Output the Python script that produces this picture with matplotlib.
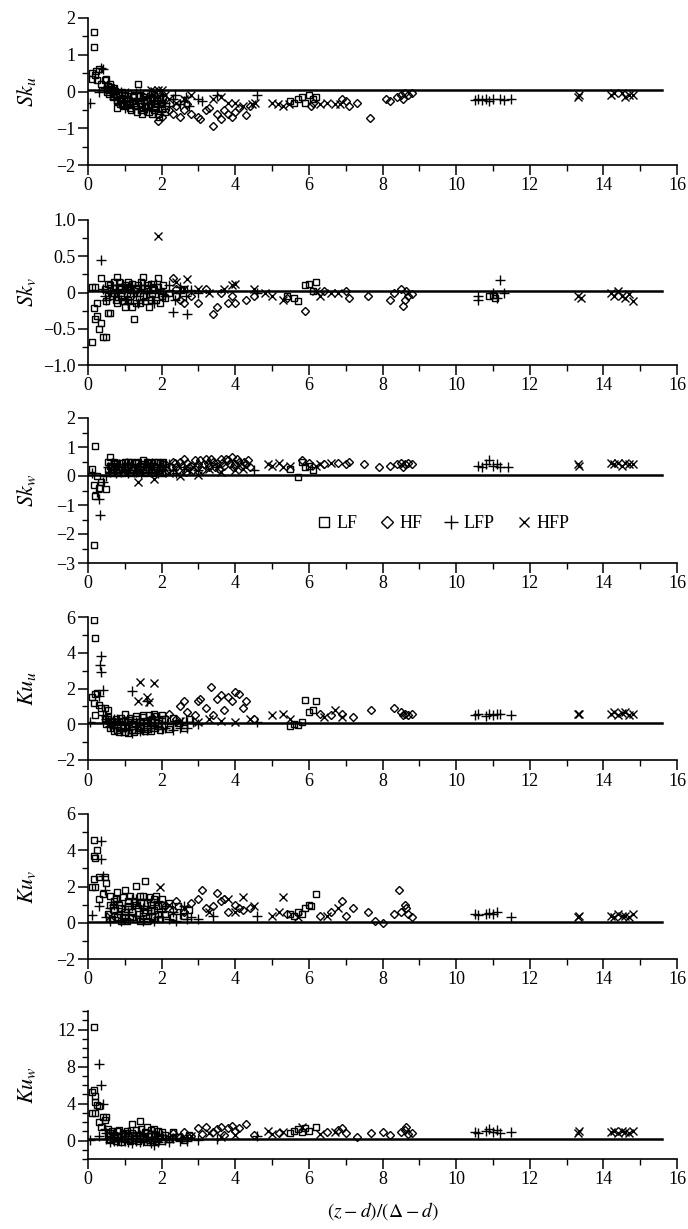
import numpy as np
import matplotlib
matplotlib.use("Agg")
import matplotlib.pyplot as plt
from matplotlib.ticker import MultipleLocator, FixedLocator

plt.rcParams['font.family'] = ['Liberation Serif', 'DejaVu Serif']
plt.rcParams['mathtext.fontset'] = 'stix'

# (x, y) pairs, one list per panel and series
# panel 1: Sk_u
sku_lf = [(0.1,0.35),(0.12,0.5),(0.15,1.62),(0.17,1.22),(0.2,0.45),(0.22,0.55),(0.25,0.3),(0.3,0.6),
          (0.35,0.2),(0.45,0.3),(0.5,0.35),(0.55,0.15),(0.6,0.2),(0.65,0.05),(0.7,0.1),(0.75,-0.1),
          (0.8,-0.45),(0.85,-0.05),(0.9,-0.2),(0.95,-0.3),(1.0,-0.1),(1.05,-0.35),(1.1,-0.2),(1.15,-0.45),
          (1.2,-0.25),(1.25,-0.1),(1.3,-0.4),(1.35,0.2),(1.4,-0.3),(1.45,-0.5),(1.5,-0.15),(1.55,-0.4),
          (1.6,-0.25),(1.65,-0.55),(1.7,-0.35),(1.75,-0.15),(1.8,-0.5),(1.85,-0.3),(1.9,-0.6),(1.95,-0.2),
          (2.0,-0.45),(5.5,-0.25),(5.6,-0.3),(5.7,-0.2),(5.8,-0.15),(5.9,-0.3),(6.0,-0.1),(6.1,-0.2),(6.2,-0.15)]
sku_lf_core = [(0.52,0.0),(0.58,-0.08),(0.63,0.12),(0.68,-0.15),(0.73,0.02),(0.78,-0.25),(0.83,-0.1),
               (0.88,-0.35),(0.93,0.0),(0.98,-0.4),(1.03,-0.2),(1.08,-0.05),(1.13,-0.3),(1.18,-0.5),
               (1.23,-0.15),(1.28,-0.3),(1.33,-0.55),(1.38,-0.1),(1.43,-0.35),(1.48,-0.6),(1.53,-0.25),
               (1.58,-0.05),(1.63,-0.4),(1.68,-0.2),(1.73,-0.6),(1.78,-0.05),(1.83,-0.4),(1.88,-0.25),
               (1.93,-0.7),(1.98,-0.35),(2.03,-0.15),(2.08,-0.55)]
sku_hf = [(1.9,-0.8),(2.0,-0.7),(2.2,-0.5),(2.3,-0.6),(2.4,-0.4),(2.5,-0.7),(2.6,-0.5),(2.7,-0.35),
          (2.8,-0.6),(3.0,-0.7),(3.05,-0.75),(3.2,-0.5),(3.3,-0.45),(3.4,-0.95),(3.5,-0.6),(3.6,-0.75),
          (3.7,-0.5),(3.8,-0.6),(3.9,-0.7),(4.0,-0.55),(4.1,-0.45),(4.3,-0.65),(4.4,-0.4),(6.05,-0.4),
          (6.1,-0.3),(6.9,-0.2),(7.0,-0.25),(7.3,-0.3),(7.1,-0.4),(7.65,-0.72),(8.1,-0.2),(8.2,-0.25),
          (8.4,-0.15),(8.5,-0.1),(8.55,-0.2),(8.6,-0.05),(8.7,-0.1),(8.8,-0.05)]
sku_lfp = [(0.05,-0.3),(0.3,0.0),(0.35,0.65),(0.4,0.6),(0.45,0.1),(0.5,0.05),(0.6,0.0),(0.7,-0.05),
           (0.8,-0.15),(0.9,0.0),(1.0,-0.25),(1.1,-0.05),(1.2,-0.35),(1.3,-0.2),(1.4,-0.05),(1.5,-0.3),
           (1.6,-0.45),(1.7,-0.1),(1.8,-0.25),(1.9,-0.4),(2.0,-0.1),(2.1,-0.3),(2.3,-0.2),(2.6,-0.25),
           (3.0,-0.2),(3.1,-0.25),(3.5,-0.1),(4.6,-0.1),(10.5,-0.22),(10.6,-0.2),(10.7,-0.22),(10.8,-0.2),
           (10.9,-0.25),(11.0,-0.2),(11.2,-0.2),(11.3,-0.22),(11.5,-0.2)]
sku_lfp_core = [(0.55,0.15),(0.62,-0.05),(0.7,-0.2),(0.77,0.05),(0.85,-0.3),(0.92,-0.15),(1.0,-0.45),
                (1.07,-0.15),(1.15,-0.25),(1.22,-0.45),(1.3,-0.05),(1.37,-0.45),(1.45,-0.2),(1.52,-0.5),
                (1.6,-0.15),(1.67,-0.35),(1.75,-0.5),(1.82,-0.15),(1.9,-0.3),(1.97,-0.55),(2.05,-0.3),
                (2.2,-0.4),(2.35,-0.1),(2.5,-0.35),(2.65,-0.15),(2.75,-0.4)]
sku_hfp = [(1.7,0.05),(1.8,0.02),(1.9,0.05),(2.0,0.03),(2.1,-0.1),(2.2,-0.2),(2.4,-0.3),(2.6,-0.2),
           (2.8,-0.1),(3.4,-0.2),(3.6,-0.15),(3.8,-0.3),(4.0,-0.3),(4.2,-0.4),(4.45,-0.35),(4.55,-0.3),
           (5.0,-0.3),(5.15,-0.35),(5.3,-0.4),(5.45,-0.35),(6.3,-0.35),(6.5,-0.3),(6.7,-0.35),(6.85,-0.35),
           (13.3,-0.15),(13.35,-0.1),(14.2,-0.1),(14.3,-0.05),(14.5,-0.05),(14.6,-0.15),(14.7,-0.1),(14.8,-0.1)]

# panel 2: Sk_v
skv_lf = [(0.1,-0.68),(0.12,0.07),(0.15,-0.22),(0.2,0.08),(0.2,-0.37),(0.25,-0.33),(0.25,-0.15),(0.3,-0.5),
          (0.35,-0.42),(0.35,0.2),(0.4,-0.62),(0.5,-0.62),(0.55,-0.28),(0.6,-0.28),(0.6,0.1),(0.7,0.15),
          (0.75,-0.1),(0.8,0.22),(0.85,0.05),(0.9,-0.05),(1.0,-0.2),(1.0,0.1),(1.1,0.15),(1.1,-0.1),
          (1.2,-0.2),(1.25,-0.37),(1.3,0.05),(1.4,-0.15),(1.5,0.22),(1.5,-0.05),(1.6,0.1),(1.7,-0.1),
          (1.8,0.05),(1.9,0.2),(2.0,-0.05),(5.4,-0.05),(5.6,-0.08),(5.7,-0.12),(5.9,0.1),(6.0,0.12),
          (6.2,0.15),(6.1,0.02),(10.9,-0.05),(11.0,-0.03),(11.05,-0.08)]
skv_lf_core = [(0.45,0.05),(0.5,-0.12),(0.55,0.12),(0.65,-0.05),(0.7,0.0),(0.8,-0.15),(0.85,0.15),
               (0.9,0.08),(0.95,-0.12),(1.05,0.0),(1.1,0.05),(1.15,-0.05),(1.2,0.12),(1.3,-0.15),
               (1.35,0.1),(1.4,0.0),(1.45,0.15),(1.55,-0.12),(1.6,0.05),(1.65,-0.2),(1.7,0.12),
               (1.75,0.0),(1.85,-0.1),(1.9,0.08),(1.95,-0.15),(2.05,0.1),(2.1,-0.08),(2.2,0.0),
               (2.4,-0.05),(2.6,0.05)]
skv_hf = [(2.3,0.2),(2.4,0.05),(2.5,-0.1),(2.6,-0.15),(2.8,-0.05),(3.0,-0.15),(3.2,0.05),(3.4,-0.3),
          (3.5,-0.2),(3.6,0.0),(3.8,-0.15),(3.9,-0.05),(4.0,-0.15),(4.3,-0.1),(4.5,-0.05),(5.4,-0.08),
          (5.9,-0.25),(6.4,0.02),(7.0,0.02),(7.1,-0.08),(7.6,-0.05),(8.2,-0.1),(8.3,0.0),(8.5,0.05),
          (8.55,-0.18),(8.6,-0.1),(8.65,0.02),(8.7,-0.05),(8.8,-0.02)]
skv_lfp = [(0.35,0.45),(0.4,0.05),(0.5,-0.1),(0.6,0.0),(0.7,-0.05),(0.8,0.1),(0.9,-0.1),(1.0,0.05),
           (1.1,-0.15),(1.2,0.1),(1.3,-0.05),(1.4,0.1),(1.5,-0.1),(1.6,0.0),(1.7,0.1),(1.8,-0.15),
           (1.9,0.0),(2.1,-0.05),(2.3,-0.27),(2.5,0.0),(2.7,-0.3),(3.0,0.0),(4.6,0.0),(10.6,-0.05),
           (10.6,-0.1),(11.0,0.0),(11.2,0.17),(11.1,-0.08),(11.3,0.0)]
skv_lfp_core = [(0.45,-0.05),(0.55,0.02),(0.65,0.1),(0.75,0.05),(0.85,-0.05),(0.95,0.12),(1.05,-0.1),
                (1.15,0.08),(1.25,0.0),(1.35,-0.15),(1.45,0.05),(1.55,0.1),(1.65,0.0),(1.75,-0.1),
                (1.85,0.12),(1.95,0.05),(2.05,-0.02),(2.2,0.1),(2.35,-0.1),(2.5,0.08),(2.65,-0.05),(2.8,0.03)]
skv_hfp = [(1.9,0.78),(2.4,0.15),(2.7,0.18),(2.6,0.05),(3.0,0.05),(3.3,0.0),(3.7,0.05),(3.9,0.1),
           (4.0,0.12),(4.5,0.05),(4.8,0.0),(5.0,-0.05),(5.3,-0.1),(6.2,0.02),(6.3,-0.05),(6.6,0.0),
           (6.8,0.0),(13.3,-0.05),(13.4,-0.08),(14.2,0.0),(14.3,-0.05),(14.4,0.02),(14.5,-0.05),
           (14.6,-0.08),(14.7,-0.02),(14.8,-0.12)]

# panel 3: Sk_w
skw_lf = [(0.1,0.25),(0.15,-2.38),(0.15,-0.3),(0.2,1.05),(0.2,-0.7),(0.25,0.0),(0.3,-0.4),(0.35,-0.2),
          (0.5,-0.45),(0.55,0.5),(0.6,0.65),(0.65,0.3),(0.7,0.4),(0.8,0.1),(0.9,0.45),(1.0,0.3),
          (1.1,0.5),(1.2,0.2),(1.3,0.45),(1.4,0.35),(1.5,0.55),(1.6,0.3),(1.7,0.45),(1.8,0.2),
          (1.9,0.5),(2.0,0.4),(5.5,0.25),(5.7,-0.05),(5.8,0.5),(5.9,0.3),(6.0,0.35),(6.1,0.2)]
skw_lf_core = [(0.55,0.2),(0.6,0.35),(0.65,0.1),(0.7,0.5),(0.75,0.25),(0.8,0.45),(0.85,0.2),(0.9,0.3),
               (0.95,0.1),(1.0,0.5),(1.05,0.2),(1.1,0.35),(1.15,0.1),(1.2,0.5),(1.25,0.3),(1.3,0.1),
               (1.35,0.5),(1.4,0.15),(1.45,0.4),(1.5,0.25),(1.55,0.1),(1.6,0.5),(1.65,0.2),(1.7,0.35),
               (1.75,0.1),(1.8,0.5),(1.85,0.3),(1.9,0.15),(1.95,0.45),(2.0,0.1),(2.05,0.5)]
skw_hf = [(2.1,0.4),(2.3,0.5),(2.4,0.3),(2.6,0.6),(2.8,0.35),(2.9,0.55),(3.0,0.4),(3.2,0.6),
          (3.3,0.3),(3.4,0.5),(3.5,0.45),(3.6,0.6),(3.7,0.35),(3.8,0.55),(3.9,0.65),(4.0,0.4),
          (4.1,0.5),(4.3,0.4),(4.4,0.3),(5.8,0.55),(6.0,0.45),(6.4,0.4),(6.8,0.45),(7.0,0.4),
          (7.1,0.5),(7.5,0.4),(7.9,0.3),(8.2,0.35),(8.4,0.4),(8.5,0.45),(8.55,0.3),(8.6,0.4),
          (8.7,0.45),(8.8,0.4)]
skw_hf_core = [(2.15,0.2),(2.25,0.3),(2.35,0.45),(2.45,0.2),(2.5,0.5),(2.55,0.35),(2.65,0.15),
               (2.7,0.45),(2.75,0.3),(2.85,0.2),(2.95,0.3),(3.05,0.55),(3.1,0.2),(3.15,0.4),
               (3.25,0.45),(3.35,0.6),(3.45,0.3),(3.55,0.25),(3.65,0.45),(3.75,0.6),(3.85,0.4),
               (3.95,0.3),(4.05,0.6),(4.15,0.35),(4.25,0.5),(4.35,0.55)]
skw_lfp = [(0.1,0.1),(0.25,-0.55),(0.3,-0.8),(0.33,-1.35),(0.4,-0.2),(0.5,0.0),(0.6,0.15),(0.7,0.2),
           (0.8,0.35),(0.9,0.15),(1.0,0.25),(1.1,0.1),(1.2,0.4),(1.3,0.15),(1.4,0.3),(1.5,0.2),
           (1.6,0.45),(1.7,0.15),(1.8,0.3),(1.9,0.1),(2.0,0.25),(2.1,0.35),(2.3,0.2),(2.6,0.3),
           (3.0,0.2),(3.5,0.3),(4.5,0.2),(10.6,0.35),(10.7,0.3),(10.8,0.4),(10.9,0.55),(11.0,0.35),
           (11.1,0.4),(11.2,0.3),(11.4,0.3)]
skw_lfp_core = [(0.55,0.3),(0.65,0.45),(0.75,0.1),(0.85,0.4),(0.95,0.3),(1.05,0.45),(1.15,0.3),
                (1.25,0.15),(1.35,0.3),(1.45,0.1),(1.55,0.4),(1.65,0.3),(1.75,0.45),(1.85,0.1),
                (1.95,0.3),(2.05,0.2),(2.2,0.4),(2.4,0.1)]
skw_hfp = [(1.35,-0.2),(1.8,-0.1),(2.2,0.1),(2.5,0.0),(2.7,0.2),(3.0,0.05),(3.3,0.25),(3.6,0.15),
           (4.0,0.2),(4.2,0.25),(4.9,0.4),(5.0,0.35),(5.2,0.45),(5.3,0.3),(5.5,0.35),(6.2,0.35),
           (6.3,0.4),(6.6,0.45),(13.3,0.4),(13.35,0.35),(14.2,0.45),(14.3,0.4),(14.4,0.45),
           (14.5,0.35),(14.6,0.45),(14.7,0.4),(14.8,0.4)]

# panel 4: Ku_u
kuu_lf = [(0.1,1.5),(0.15,5.85),(0.15,1.2),(0.2,4.85),(0.2,1.7),(0.2,0.5),(0.25,1.75),(0.3,1.1),
          (0.35,0.9),(0.45,0.9),(0.55,0.8),(0.6,0.2),(0.7,0.0),(0.8,-0.3),(0.9,0.2),(1.0,0.6),
          (1.0,-0.45),(1.1,0.1),(1.2,-0.3),(1.3,0.3),(1.4,-0.2),(1.5,0.4),(1.6,-0.25),(1.7,0.1),
          (1.8,0.6),(1.9,-0.1),(2.0,0.3),(5.5,-0.1),(5.6,0.0),(5.7,-0.05),(5.8,0.1),(5.9,1.35),
          (6.0,0.7),(6.1,0.8),(6.2,1.3)]
kuu_lf_core = [(0.45,0.3),(0.5,0.0),(0.55,0.4),(0.6,-0.2),(0.65,0.2),(0.7,-0.35),(0.75,0.3),(0.8,0.1),
               (0.85,-0.45),(0.9,0.35),(0.95,-0.2),(1.0,0.2),(1.05,-0.1),(1.1,-0.5),(1.15,0.35),
               (1.2,0.0),(1.25,-0.45),(1.3,0.45),(1.35,-0.3),(1.4,0.15),(1.45,-0.1),(1.5,0.5),
               (1.55,-0.4),(1.6,0.2),(1.65,0.5),(1.7,-0.35),(1.75,0.3),(1.8,-0.2),(1.85,0.45),
               (1.9,0.05),(1.95,-0.3),(2.0,0.5),(2.1,0.3),(2.2,-0.25),(2.3,0.35),(2.45,0.05),
               (2.6,-0.2),(2.75,0.3)]
kuu_hf = [(2.2,0.6),(2.4,0.3),(2.5,1.0),(2.6,1.3),(2.7,0.7),(2.9,0.5),(3.0,1.3),(3.05,1.4),
          (3.2,0.9),(3.35,2.1),(3.4,0.5),(3.5,1.4),(3.6,1.65),(3.7,0.8),(3.8,1.5),(3.9,1.3),
          (4.0,1.8),(4.1,1.7),(4.2,0.9),(4.3,1.3),(4.5,0.3),(6.3,0.6),(6.6,0.5),(6.9,0.6),
          (7.2,0.4),(7.7,0.8),(8.3,0.9),(8.5,0.7),(8.55,0.5),(8.6,0.6),(8.7,0.5),(8.8,0.55)]
kuu_lfp = [(0.05,0.1),(0.3,1.6),(0.33,3.3),(0.35,3.8),(0.35,2.9),(0.4,1.9),(0.4,0.5),(0.5,0.3),
           (0.6,-0.1),(0.7,0.3),(0.8,0.0),(0.9,-0.4),(1.0,0.1),(1.1,-0.3),(1.2,1.85),(1.2,0.2),
           (1.3,-0.1),(1.4,0.3),(1.5,-0.3),(1.6,1.3),(1.6,0.1),(1.7,-0.2),(1.8,0.3),(1.9,-0.15),
           (2.0,0.1),(2.1,-0.2),(2.3,0.0),(2.5,-0.2),(2.7,0.1),(3.0,0.0),(4.6,0.1),(10.5,0.5),
           (10.6,0.55),(10.8,0.45),(10.9,0.6),(11.0,0.5),(11.1,0.6),(11.2,0.55),(11.5,0.5)]
kuu_lfp_core = [(0.5,0.45),(0.6,0.1),(0.7,-0.2),(0.8,0.3),(0.9,-0.3),(1.0,-0.2),(1.1,0.4),(1.2,-0.5),
                (1.3,0.15),(1.4,-0.4),(1.5,0.0),(1.6,-0.3),(1.7,0.4),(1.8,-0.1),(1.9,0.4),(2.0,-0.25),
                (2.15,0.05),(2.3,-0.3),(2.4,0.2),(2.55,0.1),(2.7,-0.2),(2.85,0.1)]
kuu_hfp = [(1.35,1.3),(1.4,2.35),(1.6,1.5),(1.65,1.25),(1.8,2.3),(2.5,0.2),(3.0,0.1),(3.3,0.3),
           (3.6,0.2),(4.0,0.1),(4.4,0.3),(5.0,0.5),(5.3,0.6),(5.5,0.3),(6.4,0.4),(6.7,0.8),
           (6.9,0.4),(13.3,0.55),(13.35,0.6),(14.2,0.6),(14.3,0.7),(14.4,0.5),(14.5,0.65),
           (14.6,0.7),(14.7,0.5),(14.8,0.6)]

# panel 5: Ku_v
kuv_lf = [(0.1,2.0),(0.15,4.55),(0.15,3.7),(0.15,2.4),(0.2,3.6),(0.2,2.0),(0.25,4.0),(0.3,2.5),
          (0.3,1.3),(0.4,1.6),(0.45,2.55),(0.5,2.2),(0.6,1.5),(0.7,1.2),(0.8,1.7),(0.9,0.8),
          (1.0,1.8),(1.0,0.3),(1.1,1.2),(1.2,0.6),(1.3,2.05),(1.3,1.0),(1.4,1.5),(1.5,0.4),
          (1.55,2.3),(1.6,1.1),(1.7,0.7),(1.8,1.3),(1.9,0.5),(2.0,1.0),(5.5,0.5),(5.6,0.4),
          (5.7,0.6),(5.8,0.5),(5.9,0.8),(6.0,1.0),(6.05,0.9),(6.2,1.6)]
kuv_lf_core = [(0.55,0.5),(0.6,1.0),(0.65,0.2),(0.7,0.7),(0.75,1.3),(0.8,0.3),(0.85,1.0),(0.9,0.1),
               (0.95,1.4),(1.0,0.6),(1.05,0.1),(1.1,0.9),(1.15,1.5),(1.2,0.3),(1.25,1.2),(1.3,0.2),
               (1.35,0.8),(1.4,0.1),(1.45,1.1),(1.5,1.5),(1.55,0.6),(1.6,0.1),(1.65,1.4),(1.7,1.0),
               (1.75,0.3),(1.8,0.7),(1.85,1.5),(1.9,0.9),(1.95,0.2),(2.0,1.3),(2.1,0.5),(2.2,1.1),
               (2.3,0.3),(2.45,0.9),(2.6,0.4),(2.75,0.7)]
kuv_hf = [(2.1,0.9),(2.3,0.7),(2.4,1.2),(2.6,0.6),(2.8,1.1),(3.0,1.3),(3.1,1.8),(3.2,0.8),
          (3.4,0.9),(3.5,1.65),(3.6,1.2),(3.7,1.3),(3.8,0.6),(4.0,1.0),(4.1,0.8),(4.2,0.7),
          (4.4,0.8),(5.4,0.5),(6.3,0.4),(6.6,0.6),(6.9,1.2),(7.0,0.4),(7.2,0.8),(7.6,0.6),
          (7.8,0.1),(8.0,0.0),(8.3,0.5),(8.45,1.8),(8.5,0.6),(8.6,1.0),(8.65,0.8),(8.7,0.5),(8.8,0.3)]
kuv_lfp = [(0.1,0.45),(0.3,0.9),(0.35,4.5),(0.35,3.5),(0.4,2.6),(0.45,1.8),(0.5,0.3),(0.6,0.8),
           (0.7,0.3),(0.8,0.6),(0.9,0.1),(1.0,0.9),(1.1,0.2),(1.2,1.3),(1.3,0.4),(1.4,0.9),
           (1.5,0.1),(1.6,0.7),(1.7,0.2),(1.8,1.0),(1.9,0.3),(2.0,0.6),(2.2,0.2),(2.5,0.5),
           (2.8,0.3),(3.0,0.2),(3.4,0.4),(4.6,0.4),(10.5,0.5),(10.6,0.45),(10.8,0.5),(10.9,0.55),
           (11.0,0.5),(11.1,0.6),(11.5,0.3)]
kuv_lfp_core = [(0.6,0.1),(0.7,1.0),(0.8,1.2),(0.9,0.5),(1.0,0.2),(1.1,0.6),(1.2,0.9),(1.3,1.3),
                (1.4,0.4),(1.5,0.8),(1.6,1.3),(1.7,0.5),(1.8,0.1),(1.9,1.2),(2.0,0.3),(2.1,0.9),
                (2.3,0.6),(2.4,0.1),(2.6,0.9),(2.7,0.2)]
kuv_hfp = [(0.6,0.4),(1.95,1.95),(2.2,1.0),(2.6,0.8),(3.3,0.6),(3.8,1.3),(4.0,0.6),(4.2,1.4),
           (4.5,0.9),(5.0,0.4),(5.2,0.6),(5.3,1.4),(5.7,0.3),(6.5,0.4),(6.8,0.8),(13.3,0.3),
           (13.35,0.35),(14.2,0.4),(14.3,0.3),(14.4,0.5),(14.5,0.35),(14.6,0.4),(14.7,0.3),(14.8,0.5)]

# panel 6: Ku_w
kuw_lf = [(0.1,5.2),(0.1,3.0),(0.15,12.3),(0.15,5.5),(0.2,4.8),(0.2,4.2),(0.2,3.0),(0.25,3.8),
          (0.3,3.7),(0.3,2.0),(0.35,1.5),(0.4,2.5),(0.45,2.2),(0.5,2.5),(0.55,1.2),(0.6,0.8),
          (0.7,0.3),(0.8,1.0),(0.9,0.5),(1.0,0.8),(1.1,0.2),(1.2,1.8),(1.3,0.6),(1.4,2.1),
          (1.5,0.4),(1.6,1.5),(1.7,0.7),(1.8,1.2),(1.9,0.3),(2.0,0.9),(5.5,0.8),(5.6,1.0),
          (5.7,1.2),(5.8,0.9),(5.9,1.3),(6.0,1.0),(6.2,1.5)]
kuw_lf_core = [(0.55,0.5),(0.6,0.1),(0.65,1.0),(0.7,0.6),(0.75,0.0),(0.8,0.4),(0.85,1.1),(0.9,-0.2),
               (0.95,0.7),(1.0,0.2),(1.05,1.0),(1.1,0.5),(1.15,-0.1),(1.2,0.8),(1.25,0.3),(1.3,1.1),
               (1.35,0.0),(1.4,0.6),(1.45,1.2),(1.5,0.2),(1.55,0.9),(1.6,-0.2),(1.65,0.5),(1.7,1.1),
               (1.75,0.1),(1.8,0.7),(1.85,-0.1),(1.9,1.0),(1.95,0.4),(2.0,0.0),(2.1,0.6),(2.2,0.2),
               (2.3,0.9),(2.45,0.4),(2.6,0.1),(2.75,0.6)]
kuw_hf = [(2.3,0.8),(2.5,0.4),(2.6,0.9),(2.8,0.5),(3.0,1.3),(3.1,0.7),(3.2,1.5),(3.4,0.9),
          (3.5,1.2),(3.6,1.5),(3.7,0.6),(3.8,1.3),(3.9,1.6),(4.0,1.0),(4.1,1.4),(4.3,1.8),
          (4.5,0.6),(5.2,0.8),(6.5,0.9),(6.8,1.1),(6.9,1.3),(7.0,0.8),(7.3,0.4),(7.7,0.8),
          (8.0,0.9),(8.2,0.6),(8.5,0.9),(8.6,1.1),(8.65,1.5),(8.7,0.7),(8.8,0.8)]
kuw_lfp = [(0.05,0.1),(0.3,8.3),(0.3,0.5),(0.35,6.0),(0.4,3.9),(0.45,1.2),(0.5,0.2),(0.6,0.5),
           (0.7,-0.1),(0.8,0.4),(0.9,0.0),(1.0,0.5),(1.1,-0.2),(1.2,0.3),(1.3,0.0),(1.4,0.6),
           (1.5,-0.1),(1.6,0.4),(1.7,0.0),(1.8,-0.5),(1.9,0.5),(2.1,0.1),(2.3,0.3),(2.5,-0.1),
           (2.7,0.2),(3.0,0.1),(3.5,0.2),(4.6,0.5),(10.5,0.9),(10.6,0.8),(10.8,1.0),(10.9,1.2),
           (11.0,0.9),(11.1,1.1),(11.2,0.8),(11.5,0.9)]
kuw_lfp_core = [(0.5,0.8),(0.6,-0.2),(0.7,0.8),(0.8,0.0),(0.9,0.8),(1.0,-0.1),(1.1,0.9),(1.2,-0.3),
                (1.3,0.5),(1.4,-0.2),(1.5,0.8),(1.6,0.1),(1.7,-0.3),(1.8,0.8),(1.9,-0.2),(2.0,0.6),
                (2.2,-0.2),(2.4,0.7),(2.55,0.3),(2.7,-0.1)]
kuw_hfp = [(2.2,0.3),(2.8,0.5),(3.3,0.8),(3.6,0.4),(4.0,0.6),(4.9,1.0),(5.0,0.7),(5.3,0.9),
           (5.8,1.5),(6.3,0.7),(6.7,0.9),(13.3,0.8),(13.35,1.0),(14.2,0.9),(14.3,1.0),(14.4,0.8),
           (14.5,1.0),(14.6,0.9),(14.7,0.8),(14.8,1.0)]

labels = [r'$Sk_u$', r'$Sk_v$', r'$Sk_w$', r'$Ku_u$', r'$Ku_v$', r'$Ku_w$']
ylims = [(-2, 2), (-1, 1), (-3, 2), (-2, 6), (-2, 6), (-2, 14)]
yticks = [[-2, -1, 0, 1, 2], [-1, -0.5, 0, 0.5, 1], [-3, -2, -1, 0, 1, 2],
          [-2, 0, 2, 4, 6], [-2, 0, 2, 4, 6], [0, 4, 8, 12]]
ytick_labels = [['−2', '−1', '0', '1', '2'], ['−1.0', '−0.5', '0', '0.5', '1.0'],
                ['−3', '−2', '−1', '0', '1', '2'], ['−2', '0', '2', '4', '6'],
                ['−2', '0', '2', '4', '6'], ['0', '4', '8', '12']]
yminor = [0.5, 0.25, 0.5, 1, 1, 1]
ref_level = [0.05, 0.02, 0.05, 0.08, 0.02, 0.2]
ref_end = 15.6

panels = [(sku_lf + sku_lf_core, sku_hf, sku_lfp + sku_lfp_core, sku_hfp),
          (skv_lf + skv_lf_core, skv_hf, skv_lfp + skv_lfp_core, skv_hfp),
          (skw_lf + skw_lf_core, skw_hf + skw_hf_core, skw_lfp + skw_lfp_core, skw_hfp),
          (kuu_lf + kuu_lf_core, kuu_hf, kuu_lfp + kuu_lfp_core, kuu_hfp),
          (kuv_lf + kuv_lf_core, kuv_hf, kuv_lfp + kuv_lfp_core, kuv_hfp),
          (kuw_lf + kuw_lf_core, kuw_hf, kuw_lfp + kuw_lfp_core, kuw_hfp)]

# axes boxes in pixels: (top, bottom)
boxes = [(18, 165), (220, 365), (418, 563), (617, 760), (814, 959), (1011, 1159)]
W, H = 688, 1229
x0, x1 = 88, 677

styles = [dict(marker='s', ms=5, label='LF'),
          dict(marker='D', ms=4.3, label='HF'),
          dict(marker='+', ms=7.5, label='LFP'),
          dict(marker='x', ms=5.5, label='HFP')]

fig = plt.figure(figsize=(W / 100, H / 100), dpi=100)
axes = []
for i, (top, bot) in enumerate(boxes):
    ax = fig.add_axes([x0 / W, 1 - bot / H, (x1 - x0) / W, (bot - top) / H])
    for data, st in zip(panels[i], styles):
        arr = np.array(data)
        ax.plot(arr[:, 0], arr[:, 1], linestyle='none', marker=st['marker'], ms=st['ms'],
                mfc='none', mec='black', mew=1.0, label=st['label'])
    ax.plot([0, ref_end], [ref_level[i]] * 2, color='black', lw=1.8)
    ax.set_xlim(0, 16)
    ax.set_ylim(*ylims[i])
    ax.spines['top'].set_visible(False)
    ax.spines['right'].set_visible(False)
    for s in ('left', 'bottom'):
        ax.spines[s].set_linewidth(1.2)
    ax.xaxis.set_major_locator(MultipleLocator(2))
    ax.xaxis.set_minor_locator(MultipleLocator(1))
    ax.yaxis.set_major_locator(FixedLocator(yticks[i]))
    ax.set_yticklabels(ytick_labels[i])
    ax.yaxis.set_minor_locator(MultipleLocator(yminor[i]))
    ax.tick_params(which='major', direction='out', length=7, width=1.1, labelsize=13, pad=2)
    ax.tick_params(which='minor', direction='out', length=4, width=1.0)
    ax.set_ylabel(labels[i], fontsize=16)
    ax.yaxis.set_label_coords(-0.085, 0.5)
    axes.append(ax)

leg = axes[2].legend(loc='center', bbox_to_anchor=(0.6, 0.27), ncol=4, frameon=False,
                     fontsize=13, handletextpad=0.1, columnspacing=1.0, handlelength=1.2)
for h in leg.legend_handles:
    h.set_markersize(h.get_markersize() * 1.4)

axes[-1].set_xlabel(r'$(z-d)/(\mathit{\Delta}-d)$', fontsize=14, labelpad=8)

fig.savefig('out.png', dpi=100)
